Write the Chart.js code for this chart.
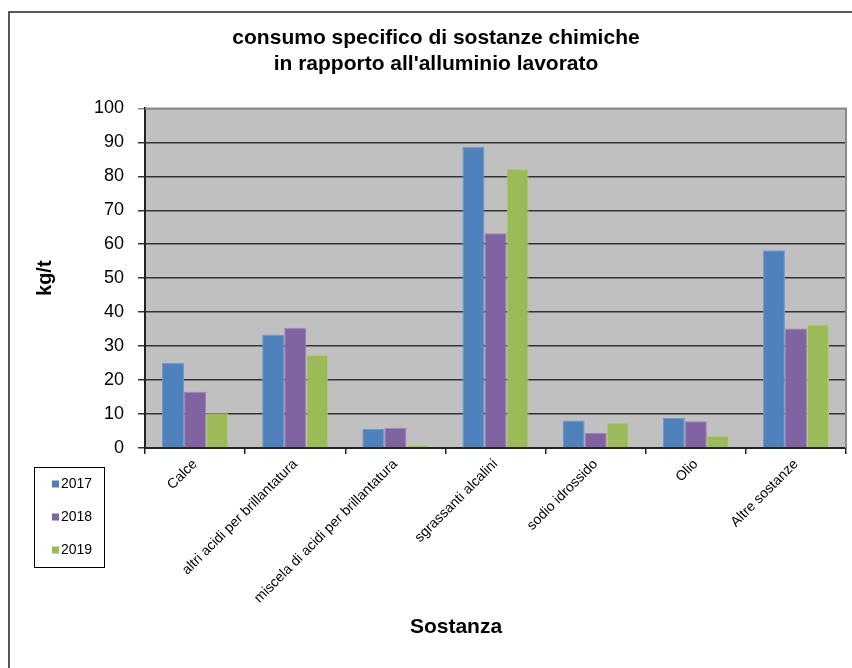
<!DOCTYPE html>
<html>
<head>
<meta charset="utf-8">
<script src="https://cdn.jsdelivr.net/npm/chart.js@4.4.1/dist/chart.umd.min.js"></script>
<style>
  html, body { margin: 0; padding: 0; background: #fff; }
  canvas { display: block; }
</style>
</head>
<body>
<canvas id="chimiche" width="852" height="668"></canvas>
<script>
const sostanze = ["Calce", "altri acidi per brillantatura", "miscela di acidi per brillantatura",
    "sgrassanti alcalini", "sodio idrossido", "Olio", "Altre sostanze"];
const anni = ["2017", "2018", "2019"];
const valori2017 = [25.0, 33.4, 5.6, 88.7, 8.1, 8.8, 58.2];
const valori2018 = [16.6, 35.4, 5.9, 63.2, 4.4, 7.9, 35.2];
const valori2019 = [10.2, 27.4, 0.9, 82.2, 7.4, 3.6, 36.4];
const colori = ["#4F81BD", "#8064A2", "#9BBB59"];
const bordi = ["#6F9AD0", "#9A83BA", "#B3CE7C"];

const FONT = "'Liberation Sans', Arial, sans-serif";
const titoloX = "Sostanza";

// plot background, outer frame, legend and x title
const decorazioni = {
    id: 'decorazioni',
    beforeDraw(chart) {
        const ctx = chart.ctx;
        const a = chart.chartArea;
        ctx.save();
        ctx.fillStyle = '#fff';
        ctx.fillRect(0, 0, chart.width, chart.height);
        ctx.fillStyle = '#C0C0C0';
        ctx.fillRect(a.left, a.top, a.right - a.left, a.bottom - a.top);
        // frame around the whole picture (only top and left visible)
        ctx.strokeStyle = '#222';
        ctx.lineWidth = 1.5;
        ctx.beginPath();
        ctx.moveTo(9, chart.height);
        ctx.lineTo(9, 12);
        ctx.lineTo(chart.width, 12);
        ctx.stroke();
        ctx.restore();
    },
    afterDraw(chart) {
        const ctx = chart.ctx;
        const a = chart.chartArea;
        ctx.save();
        // gray border top/right of plot
        ctx.strokeStyle = '#8a8a8a';
        ctx.lineWidth = 2;
        ctx.beginPath();
        ctx.moveTo(a.left, a.top);
        ctx.lineTo(a.right, a.top);
        ctx.lineTo(a.right, a.bottom);
        ctx.stroke();

        // legend box
        ctx.strokeStyle = '#000';
        ctx.lineWidth = 1;
        ctx.strokeRect(34.5, 467.5, 70, 100);
        ctx.font = '14px ' + FONT;
        ctx.textBaseline = 'middle';
        ctx.textAlign = 'left';
        chart.data.datasets.forEach((ds, i) => {
            const y = 484 + i * 33;
            ctx.fillStyle = ds.backgroundColor;
            ctx.fillRect(52, y - 3.5, 7, 7);
            ctx.fillStyle = '#000';
            ctx.fillText(ds.label, 61, y);
        });

        // x axis title
        ctx.font = 'bold 21px ' + FONT;
        ctx.textAlign = 'center';
        ctx.fillText(titoloX, 456, 627);
        ctx.restore();
    }
};

const datasets = [valori2017, valori2018, valori2019].map((v, i) => ({
    label: anni[i],
    data: v,
    backgroundColor: colori[i],
    borderColor: bordi[i],
    borderWidth: 1,
    categoryPercentage: 0.66,
    barPercentage: 1.0
}));

const config = {
    type: 'bar',
    data: { labels: sostanze, datasets: datasets },
    options: {
        responsive: false,
        animation: false,
        devicePixelRatio: 1,
        layout: { padding: { left: 26, right: 6, top: 14, bottom: 0 } },
        plugins: {
            legend: { display: false },
            tooltip: { enabled: false },
            title: {
                display: true,
                text: ["consumo specifico di sostanze chimiche", "in rapporto all'alluminio lavorato"],
                color: '#000',
                font: { family: FONT, size: 21, weight: 'bold', lineHeight: 1.2 },
                padding: { top: 12, bottom: 32 }
            }
        },
        scales: {
            x: {
                afterFit: (scale) => { scale.height = 220; },
                grid: {
                    offset: true,
                    drawOnChartArea: false,
                    color: '#222',
                    lineWidth: 1.5,
                    tickLength: 6
                },
                border: { color: '#222', width: 2 },
                ticks: {
                    autoSkip: false,
                    minRotation: 45,
                    maxRotation: 45,
                    padding: 2,
                    color: '#000',
                    font: { family: FONT, size: 14 }
                }
            },
            y: {
                min: 0,
                max: 100,
                afterFit: (scale) => { scale.width = 119; },
                grid: {
                    color: (c) => (c.tick && c.tick.value === 100) ? '#8a8a8a' : '#333',
                    lineWidth: 1.5,
                    tickLength: 7
                },
                border: { color: '#222', width: 2 },
                ticks: {
                    stepSize: 10,
                    padding: 14,
                    color: '#000',
                    font: { family: FONT, size: 18 }
                },
                title: {
                    display: true,
                    text: 'kg/t',
                    color: '#000',
                    font: { family: FONT, size: 20, weight: 'bold', lineHeight: 1.2 },
                    padding: { top: 7, bottom: 0 }
                }
            }
        }
    },
    plugins: [decorazioni]
};

const chimicheChart = new Chart(document.getElementById('chimiche'), config);
</script>
</body>
</html>
